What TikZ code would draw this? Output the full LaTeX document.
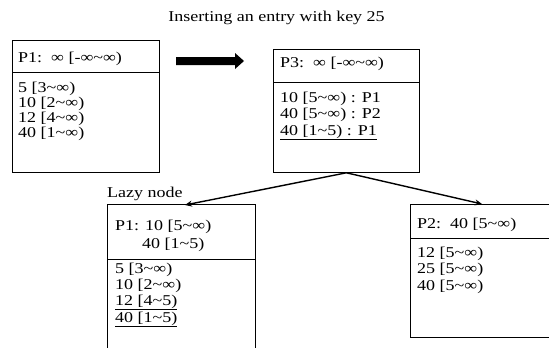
\documentclass[tikz,border=0pt]{standalone}
\usepackage{fontspec}
\setmainfont{Liberation Serif}[FakeStretch=1.2]
\usetikzlibrary{arrows.meta}
\tikzset{txt/.style={anchor=base west,inner sep=0pt},
  box/.style={draw,line width=0.8pt,anchor=north west,inner sep=0pt},
  link/.style={line width=1.4pt,-{Stealth[length=7pt,width=6pt]}}}
\newcommand{\inft}{∞}
\newcommand{\tl}{\char`\~}
\begin{document}
\begin{tikzpicture}[x=1pt,y=-1pt,font=\fontsize{15}{16}\selectfont]
\useasboundingbox (0,0) rectangle (549,348);
\node[anchor=base] (title) at (276.5,21) {Inserting an entry with key 25};
% old root
\node[box,minimum width=147pt,minimum height=132pt] (p1old) at (12,40) {};\draw[line width=0.8pt] (12,72)--(159,72);
\node[txt] (p1h) at (18,62) {P1:\ \ \inft\ [-\inft\tl\inft)};
\node[txt] (p1a) at (18,92) {5 [3\tl\inft)};\node[txt] (p1b) at (18,107) {10 [2\tl\inft)};
\node[txt] (p1c) at (18,122) {12 [4\tl\inft)};\node[txt] (p1d) at (18,137) {40 [1\tl\inft)};
% big arrow
\fill (176,57)--(235,57)--(235,53)--(244,61)--(235,69)--(235,65)--(176,65)--cycle;
% new root
\node[box,minimum width=146pt,minimum height=123pt] (p3) at (273,49) {};\draw[line width=0.8pt] (273,82)--(419,82);
\node[txt] (p3h) at (280,67) {P3:\ \ \inft\ [-\inft\tl\inft)};
\node[txt] (p3a) at (280,102) {10 [5\tl\inft) : P1};\node[txt] (p3b) at (280,118) {40 [5\tl\inft) : P2};
\node[txt] (p3c) at (280,135) {\underline{40 [1\tl5) : P1}};
% lazy node
\node[txt] (lazy) at (107,197) {Lazy node};
\node[box,minimum width=148pt,minimum height=160pt] (p1new) at (107,204) {};\draw[line width=0.8pt] (107,259)--(255,259);
\node[txt] (p1nh) at (115,230) {P1: 10 [5\tl\inft)};\node[txt] (p1ni) at (142,248) {40 [1\tl5)};
\node[txt] (p1na) at (115,273) {5 [3\tl\inft)};\node[txt] (p1nb) at (115,289) {10 [2\tl\inft)};
\node[txt] (p1nc) at (115,305) {\underline{12 [4\tl5)}};\node[txt] (p1nd) at (115,322) {\underline{40 [1\tl5)}};
% right child
\node[box,minimum width=160pt,minimum height=133pt] (p2) at (410,204) {};\draw[line width=0.8pt] (410,238)--(570,238);
\node[txt] (p2h) at (417,228) {P2:\ \ 40 [5\tl\inft)};
\node[txt] (p2a) at (417,257) {12 [5\tl\inft)};\node[txt] (p2b) at (417,273) {25 [5\tl\inft)};
\node[txt] (p2c) at (417,290) {40 [5\tl\inft)};
\coordinate (tl) at (185,205);\coordinate (tr) at (482,204);
\draw[link] (p3.south)--(tl);\draw[link] (p3.south)--(tr);
\end{tikzpicture}
\end{document}
